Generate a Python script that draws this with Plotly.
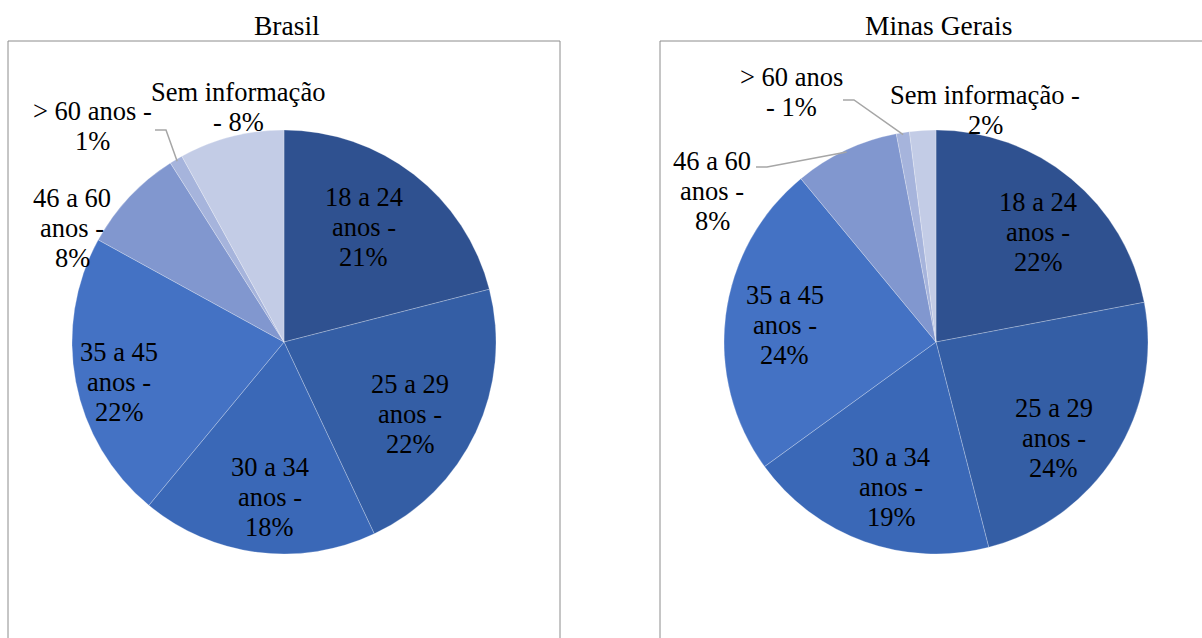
import math
import plotly.graph_objects as go

W, H = 1202, 638

categories = ["18 a 24 anos", "25 a 29 anos", "30 a 34 anos", "35 a 45 anos",
              "46 a 60 anos", "> 60 anos", "Sem informação"]
brasil_values = [21, 22, 18, 22, 8, 1, 8]
mg_values = [22, 24, 19, 24, 8, 1, 2]

brasil_labels = ["18 a 24<br>anos -<br>21%", "25 a 29<br>anos -<br>22%",
                 "30 a 34<br>anos -<br>18%", "35 a 45<br>anos -<br>22%",
                 "46 a 60<br>anos -<br>8%", "> 60 anos -<br>1%", "Sem informação<br>- 8%"]
mg_labels = ["18 a 24<br>anos -<br>22%", "25 a 29<br>anos -<br>24%",
             "30 a 34<br>anos -<br>19%", "35 a 45<br>anos -<br>24%",
             "46 a 60<br>anos -<br>8%", "> 60 anos<br>- 1%", "Sem informação -<br>2%"]

colors = ["#2F5190", "#345EA5", "#3A68B7", "#4472C4", "#8197CF", "#A6B4DC", "#C3CCE6"]
FONT = '"Liberation Serif", "Times New Roman", Times, serif'
FS = 26.5
LS = 30  # line spacing in px

# pie geometry (pixels)
R = 212
centers = [(284, 342), (936, 342)]
INSIDE_FRAC = 0.72
# fine placement nudges (px) for inside labels, like Excel's label placement
brasil_nudge = [(-14, 6), (-12, 7), (5, 4), (-15, 11)]
mg_nudge = [(5, 8), (-11, 14), (7, 1), (0, 2)]

def px2paper(x, y):
    return x / W, 1 - y / H

fig = go.Figure()
for (cx, cy), vals in [(centers[0], brasil_values), (centers[1], mg_values)]:
    x0, y1 = px2paper(cx - R, cy - R)
    x1, y0 = px2paper(cx + R, cy + R)
    fig.add_trace(go.Pie(
        labels=categories, values=vals, textinfo="none",
        sort=False, direction="clockwise", rotation=0,
        marker=dict(colors=colors, line=dict(color="rgba(255,255,255,0.35)", width=0.7)),
        domain=dict(x=[x0, x1], y=[y0, y1]), showlegend=False, hoverinfo="label+percent",
    ))

def slice_point(center, vals, idx, frac):
    tot = sum(vals)
    before = sum(vals[:idx])
    mid = (before + vals[idx] / 2) / tot * 2 * math.pi
    cx, cy = center
    return cx + frac * R * math.sin(mid), cy - frac * R * math.cos(mid)

annotations = []
shapes = []

def add_line(xpx, ypx, text, size):
    x, y = px2paper(xpx, ypx)
    annotations.append(dict(x=x, y=y, xref="paper", yref="paper", text=text, showarrow=False,
                            xanchor="center", yanchor="middle", align="center",
                            font=dict(family=FONT, size=size, color="black")))

def add_text(xpx, ypx, text, size=FS):
    lines = text.split("<br>")
    n = len(lines)
    for k, ln in enumerate(lines):
        add_line(xpx, ypx + (k - (n - 1) / 2) * LS, ln, size)

# titles
add_text(287, 25, "Brasil", 27.5)
add_text(938, 25, "Minas Gerais", 27.5)

# frames
for (fx0, fx1) in [(8, 560), (660, 1260)]:
    a, b = px2paper(fx0, 41)
    c, d = px2paper(fx1, 700)
    shapes.append(dict(type="rect", xref="paper", yref="paper", x0=a, x1=c, y0=d, y1=b,
                       line=dict(color="#8C8C8C", width=1), fillcolor="rgba(0,0,0,0)"))

# inside labels (placed on each slice's mid-angle)
for center, vals, labs, nudge in [(centers[0], brasil_values, brasil_labels, brasil_nudge),
                                  (centers[1], mg_values, mg_labels, mg_nudge)]:
    for i in range(4):
        px, py = slice_point(center, vals, i, INSIDE_FRAC)
        add_text(px + nudge[i][0], py + nudge[i][1], labs[i])

# outside labels: label centre px, leader start px (or None)
out_layout = [
    (centers[0], brasil_values, brasil_labels, {4: ((72, 228), None), 5: ((92, 126), (155, 130)), 6: ((238, 107), None)}),
    (centers[1], mg_values, mg_labels, {4: ((712, 191), (756, 167)), 5: ((791, 92), (843, 100)), 6: ((985, 110), None)}),
]
for center, vals, labs, pos in out_layout:
    for idx, (lab_xy, lead) in pos.items():
        add_text(lab_xy[0], lab_xy[1], labs[idx])
        if lead is not None:
            ex, ey = slice_point(center, vals, idx, 0.99)
            sx, sy = lead
            kx = sx + 11
            p = [px2paper(sx, sy), px2paper(kx, sy), px2paper(ex, ey)]
            path = "M {} {} L {} {} L {} {}".format(p[0][0], p[0][1], p[1][0], p[1][1], p[2][0], p[2][1])
            shapes.append(dict(type="path", xref="paper", yref="paper", path=path,
                               line=dict(color="#A6A6A6", width=1.5)))

fig.update_layout(width=W, height=H, margin=dict(l=0, r=0, t=0, b=0),
                  paper_bgcolor="white", plot_bgcolor="white",
                  font=dict(family=FONT),
                  annotations=annotations, shapes=shapes)
fig.write_html("out.html")
